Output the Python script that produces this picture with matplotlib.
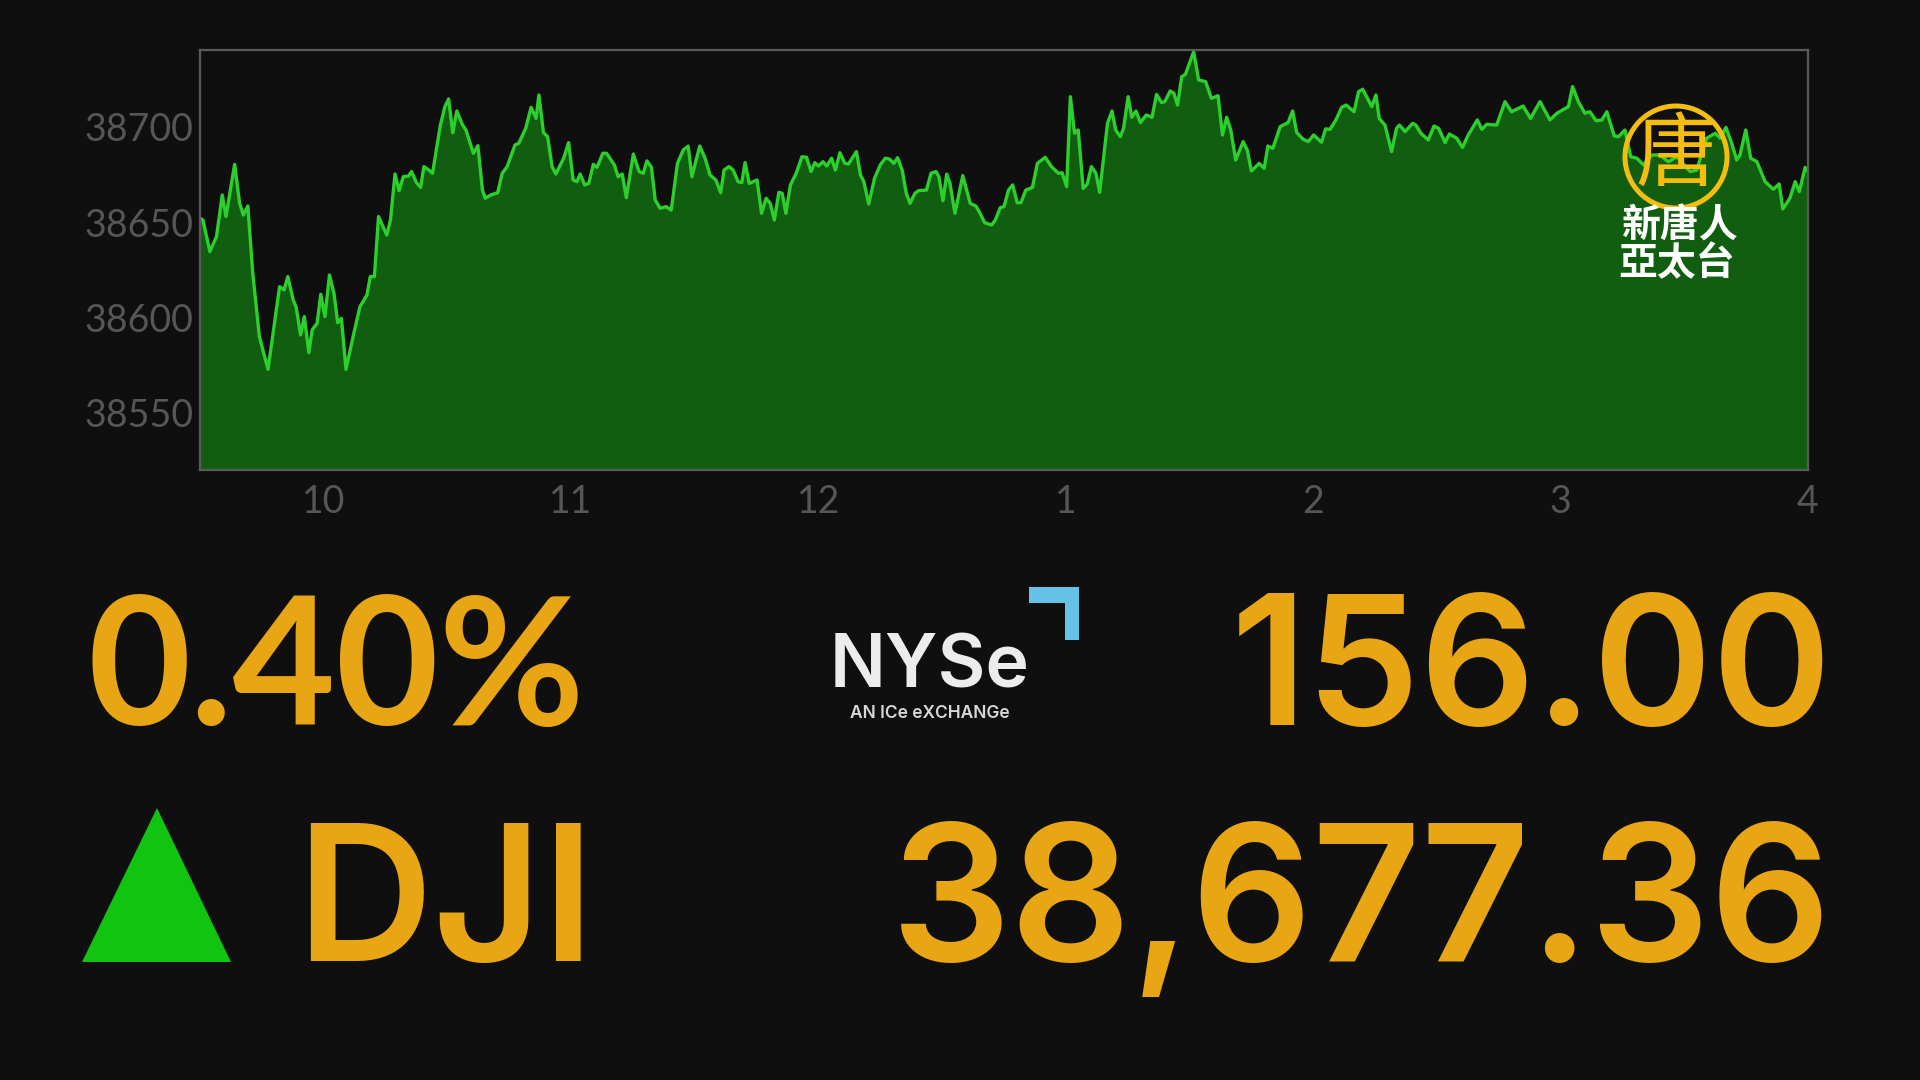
# DJI intraday card
import matplotlib
matplotlib.use('Agg')
import matplotlib.pyplot as plt
from matplotlib.patches import Circle, Polygon

# minutes after the 9:30 open, index level
minutes = [0, 0.7, 2.4, 4.0, 5.4, 6.3, 8.4, 9.6, 10.5, 11.6, 12.8, 14.4, 16.5, 19.3, 20.4, 21.3, 22.6, 23.3, 24.4, 25.3,
           26.4, 27.2, 28.4, 29.3, 30.3, 31.4, 32.5, 33.4, 34.3, 35.4, 37.4, 38.8, 40.5, 41.3, 42.3, 43.3, 45.3, 46.2, 47.3, 48.3,
           49.3, 50.6, 51.3, 52.5, 53.5, 54.3, 55.5, 56.4, 58.3, 59.4, 60.3, 61.3, 62.3, 63.6, 64.5, 66.3, 67.4, 68.5, 69.2, 70.5,
           72.2, 73.3, 74.5, 76.4, 77.3, 79.0, 80.3, 81.5, 82.2, 83.3, 84.3, 85.4, 86.3, 88.2, 89.4, 90.5, 91.4, 92.2, 93.3, 94.3,
           95.4, 96.3, 97.7, 98.6, 100.5, 101.4, 102.4, 103.4, 105.1, 106.5, 107.5, 108.4, 109.5, 110.4, 111.6, 113.0, 114.3, 115.8, 117.2, 118.4,
           119.3, 121.2, 122.5, 123.7, 125.1, 126.3, 127.1, 128.3, 129.3, 130.5, 131.4, 132.2, 133.2, 135.1, 136.2, 137.3, 138.3, 139.3, 140.4, 141.2,
           142.1, 143.2, 144.6, 146.0, 147.1, 148.2, 149.1, 150.0, 151.1, 152.0, 153.2, 154.1, 155.2, 156.4, 157.3, 159.2, 160.2, 161.0, 162.2, 163.6,
           165.0, 166.2, 167.2, 168.3, 169.2, 170.3, 171.3, 172.2, 173.4, 174.3, 176.2, 177.3, 178.5, 179.2, 180.2, 181.1, 181.9, 183.1, 185.0, 186.8,
           188.2, 189.2, 190.3, 192.0, 192.9, 194.1, 195.0, 196.1, 197.1, 198.2, 199.1, 200.3, 201.9, 203.1, 205.0, 206.5, 208.2, 209.1, 210.2, 211.1,
           212.1, 213.0, 214.2, 215.2, 216.2, 217.3, 218.2, 220.1, 221.2, 222.1, 223.2, 224.0, 225.1, 226.0, 227.0, 228.1, 229.5, 230.9, 232.0, 233.2,
           234.0, 235.3, 236.2, 237.1, 238.1, 239.0, 241.0, 242.2, 243.9, 245.3, 246.9, 248.0, 249.0, 250.0, 251.2, 253.0, 254.0, 255.0, 256.9, 258.1,
           259.0, 260.2, 262.0, 263.9, 265.0, 266.0, 267.6, 268.8, 270.1, 272.0, 273.0, 274.1, 275.5, 276.9, 278.0, 279.9, 281.0, 282.0, 284.2, 285.2,
           286.0, 287.4, 289.0, 290.2, 290.9, 292.3, 294.1, 294.9, 296.1, 297.9, 299.3, 300.4, 302.0, 303.0, 304.8, 306.2, 307.6, 309.8, 310.9, 312.1,
           314.5, 316.5, 318.1, 320.9, 322.7, 325.0, 327.4, 329.1, 331.9, 332.9, 334.3, 335.9, 337.1, 338.6, 340.0, 341.2, 343.0, 344.0, 345.6, 347.0,
           348.5, 350.1, 352.1, 354.1, 356.1, 358.2, 361.4, 363.0, 365.4, 367.5, 368.7, 370.1, 371.5, 372.7, 373.5, 374.9, 376.1, 377.6, 379.6, 381.6,
           383.0, 383.9, 385.6, 386.9, 387.9, 389.3, 390]
dji = [38652.1, 38651.2, 38634.6, 38642.5, 38664.3, 38653, 38680.4, 38660, 38653.8, 38658.5, 38623.2, 38590, 38572.8, 38616.2, 38614.5, 38621.5, 38609.2, 38605.7, 38590.9, 38600.5,
       38581.6, 38593.5, 38597, 38612.2, 38600.5, 38622.3, 38612.7, 38597.3, 38599.6, 38572.8, 38592.6, 38605.7, 38611.9, 38621.5, 38621.5, 38653, 38643.3, 38651.2, 38675.3, 38666.6,
       38673.9, 38674.3, 38676.6, 38670.8, 38668.3, 38679.2, 38677.4, 38675.7, 38701, 38710.7, 38714.7, 38697, 38708.4, 38701.4, 38698.4, 38686.2, 38690.2, 38666.9, 38662.6, 38664.3,
       38665.5, 38675.7, 38679.2, 38690.6, 38691.4, 38699.3, 38710.3, 38704.5, 38716.8, 38697, 38694.9, 38679.2, 38675.3, 38683.6, 38691.8, 38672.2, 38671.3, 38675.3, 38669.6, 38670.4,
       38680.4, 38678.8, 38686.2, 38686.2, 38680.1, 38673.9, 38675.3, 38662.9, 38685.8, 38676.6, 38675.7, 38682.2, 38678.8, 38661.7, 38657.3, 38658.2, 38656.4, 38680.9, 38687.9, 38690,
       38673.9, 38690, 38683.6, 38674.8, 38672.2, 38665.5, 38677.4, 38679.2, 38677.4, 38671.3, 38670.8, 38681.3, 38670.4, 38672.2, 38654.7, 38662.6, 38659.9, 38651.2, 38665.7, 38665.2,
       38654.7, 38669.6, 38675.7, 38684.4, 38684.1, 38676.6, 38681.3, 38679.5, 38681.8, 38679.5, 38683.6, 38677.4, 38686.5, 38680.9, 38680.6, 38687.1, 38674.8, 38671.3, 38659.6, 38673.1,
       38680.1, 38683.6, 38683.2, 38680.9, 38683.9, 38677.4, 38665.2, 38659.9, 38665.2, 38666.6, 38666.9, 38675.7, 38676.6, 38673.9, 38661.3, 38675.3, 38670.4, 38654.7, 38674.5, 38659.9,
       38658.5, 38654.7, 38649.8, 38648.6, 38651.2, 38657.7, 38658.2, 38666.9, 38669.6, 38660.3, 38660.3, 38666.9, 38668.3, 38680.9, 38684.1, 38679.2, 38675.7, 38676, 38668.7, 38715.9,
       38696.7, 38698.4, 38667.8, 38670.1, 38679.2, 38675.7, 38665.7, 38701.9, 38708.4, 38698.4, 38694.9, 38699.3, 38715.9, 38705.1, 38708.4, 38702.3, 38706.3, 38705.1, 38717.1, 38712.8,
       38713.3, 38718.9, 38717.7, 38711.5, 38726.4, 38727.6, 38739.5, 38724.7, 38723.8, 38715, 38716.4, 38695.8, 38705.1, 38698.4, 38682.7, 38692.3, 38687.9, 38676.9, 38680.9, 38678.3,
       38690, 38688.8, 38700.2, 38702.3, 38708.4, 38697, 38693.5, 38692.3, 38695.8, 38692, 38699, 38698.8, 38703.7, 38710.3, 38711.5, 38708, 38718.5, 38719.8, 38710.7, 38716.8,
       38704.5, 38701, 38687.1, 38699.3, 38701, 38697.6, 38701.9, 38701, 38696.7, 38693.2, 38700.5, 38699.3, 38691.8, 38696.3, 38694.1, 38689.3, 38695.8, 38703.7, 38698.8, 38701.4,
       38701, 38713.3, 38708, 38711, 38704.5, 38713.3, 38703.7, 38707.2, 38710.7, 38721.2, 38713.3, 38707.2, 38708, 38703.3, 38703.7, 38708, 38695.3, 38694.9, 38698.4, 38684.4,
       38683.6, 38680.1, 38685.3, 38685.3, 38681.8, 38684.4, 38676.6, 38677.4, 38694.1, 38696.7, 38694.1, 38699.8, 38691.4, 38682.7, 38685.3, 38698.4, 38683.6, 38681.8, 38671.3, 38667.3,
       38670.1, 38657, 38662.6, 38671.3, 38666.1, 38678.8, 38676.6]

y_ticks = [38550, 38600, 38650, 38700]
x_ticks = [30, 90, 150, 210, 270, 330, 390]
x_labels = ['10', '11', '12', '1', '2', '3', '4']

pct_text = '0.40%'
change_text = '156.00'
symbol_text = 'DJI'
level_text = '38,677.36'

W, H = 1920, 1080
bg = '#0f0f0f'
orange = '#e8a514'
gray = '#565656'


def fx(px):
    return px / W


def fy(py):
    return 1 - py / H


fig = plt.figure(figsize=(W / 100, H / 100), dpi=100, facecolor=bg)

ax = fig.add_axes([fx(200), fy(470), 1608 / W, 420 / H], facecolor=bg)
ax.fill_between(minutes, dji, 38520, color='#115e10', lw=0)
ax.plot(minutes, dji, color='#2ccf2c', lw=2.4, solid_joinstyle='round')
ax.set_xlim(0, 390)
ax.set_ylim(38520, 38740.4)
ax.set_xticks(x_ticks, x_labels)
ax.set_yticks(y_ticks, [str(v) for v in y_ticks])
ax.tick_params(length=0, colors=gray, labelsize=27, labelfontfamily='Lato')
ax.tick_params(axis='x', pad=10)
ax.tick_params(axis='y', pad=4.5)
for s in ax.spines.values():
    s.set_color('#5a5a5a')
    s.set_linewidth(1.6)

# big numbers, Inter's % runs too wide so that one stays in Lato
big = dict(color=orange, fontsize=136, family='Inter', weight='semibold', va='baseline')
fig.text(fx(88), fy(725), pct_text, color=orange, fontsize=128, family='Lato', weight='bold', ha='left', va='baseline')
fig.text(fx(1832), fy(725), change_text, color=orange, fontsize=130, family='Inter', weight='semibold', ha='right', va='baseline')
fig.text(fx(296), fy(961), symbol_text, ha='left', **big)
fig.text(fx(1832), fy(961), level_text, ha='right', **big)

# up arrow
fig.add_artist(Polygon([(fx(157), fy(808)), (fx(82), fy(962)), (fx(231), fy(962))], closed=True,
                       transform=fig.transFigure, color='#10c410', lw=0))

# NYSE logo
fig.text(fx(830), fy(687), 'NYSe', color='#ececec', fontsize=53, family='Inter', weight='semibold', ha='left', va='baseline')
fig.text(fx(930), fy(714), 'AN ICe eXCHANGe', color='#d8d8d8', fontsize=12.5, family='Inter', weight='semibold', ha='center', va='center')
corner = [(1029, 587), (1079, 587), (1079, 640), (1065, 640), (1065, 603), (1029, 603)]
fig.add_artist(Polygon([(fx(a), fy(b)) for a, b in corner], closed=True, transform=fig.transFigure,
                       color='#67c0e6', lw=0))

# station logo
logo_ax = fig.add_axes([0, 0, 1, 1], facecolor='none')
logo_ax.set_xlim(0, W)
logo_ax.set_ylim(H, 0)
logo_ax.axis('off')
logo_ax.add_patch(Circle((1676, 157), 51, fill=False, ec='#f5bd10', lw=3.6))
logo_ax.text(1676, 157, '唐', color='#f5bd10', fontsize=58, family='Noto Sans CJK TC', weight='medium',
             ha='center', va='center')
logo_ax.text(1680, 226, '新唐人', color='white', fontsize=28, family='Noto Sans CJK TC', weight='bold',
             ha='center', va='center')
logo_ax.text(1677, 264, '亞太台', color='white', fontsize=28, family='Noto Sans CJK TC', weight='bold',
             ha='center', va='center')

fig.savefig('out.png', dpi=100, facecolor=bg)
